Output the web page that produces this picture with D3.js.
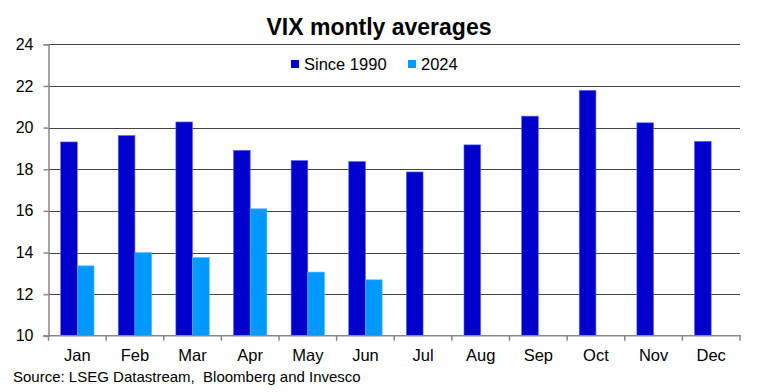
<!DOCTYPE html>
<html><head><meta charset="utf-8">
<script src="https://cdn.jsdelivr.net/npm/d3@7"></script>
<style>body{margin:0;background:#fff}svg{display:block;font-family:"Liberation Sans",Arial,sans-serif}</style>
</head><body>
<svg id="c" width="759" height="392"></svg>
<script>
const months = ["Jan","Feb","Mar","Apr","May","Jun","Jul","Aug","Sep","Oct","Nov","Dec"];
const since1990 = [19.31,19.62,20.27,18.91,18.42,18.37,17.87,19.17,20.55,21.79,20.23,19.34];
const y2024 = [13.36,14.0,13.76,16.10,13.06,12.69,null,null,null,null,null,null];
const seriesNames = ["Since 1990","2024"];
const yTicks = [10,12,14,16,18,20,22,24];

const colors = ["#0000CC","#0099FF"];
const svg = d3.select("#c");
const m = {l:48.5, r:740, t:44.3, b:335.8};
const x = d3.scaleBand().domain(months).range([m.l,m.r]).paddingInner(0).paddingOuter(0);
const x1 = d3.scaleBand().domain(seriesNames).range([0,x.bandwidth()]).paddingInner(0).paddingOuter(0.725);
const y = d3.scaleLinear().domain([10,24]).range([m.b,m.t]);

// gridlines
svg.append("g").selectAll("line").data(yTicks.filter(d=>d>10)).join("line")
  .attr("x1",m.l).attr("x2",m.r).attr("y1",d=>Math.round(y(d))+0.5).attr("y2",d=>Math.round(y(d))+0.5)
  .attr("stroke","#444").attr("stroke-width",1);

// bars
const data = months.map((mo,i)=>({mo, vals:[since1990[i], y2024[i]]}));
const g = svg.append("g");
data.forEach(d=>{
  d.vals.forEach((v,j)=>{
    if(v==null) return;
    g.append("rect")
      .attr("x", x(d.mo)+x1(seriesNames[j]))
      .attr("width", x1.bandwidth())
      .attr("y", y(v)).attr("height", y(10)-y(v))
      .attr("fill", colors[j])
      .attr("stroke", j===0?"#5a6cf0":"#5ab8ff").attr("stroke-width",0.6);
  });
});

// y axis
const ya = d3.axisLeft(y).tickValues(yTicks).tickSize(5).tickPadding(10).tickFormat(d3.format("d"));
const yg = svg.append("g").attr("transform",`translate(${m.l},0)`).call(ya);
yg.select(".domain").attr("stroke","#888").attr("stroke-width",1.5);
yg.selectAll(".tick line").attr("stroke","#888").attr("stroke-width",1.5);
yg.selectAll("text").attr("font-size","16px").attr("fill","#000").attr("font-family","Liberation Sans, Arial, sans-serif");

// x axis
const xa = d3.axisBottom(x).tickSize(0).tickPadding(13);
const xg = svg.append("g").attr("transform",`translate(0,${m.b})`).call(xa);
xg.select(".domain").remove();
xg.selectAll("text").attr("font-size","16.5px").attr("fill","#000").attr("font-family","Liberation Sans, Arial, sans-serif");
svg.append("line").attr("x1",m.l-5).attr("x2",m.r+1).attr("y1",m.b).attr("y2",m.b).attr("stroke","#888").attr("stroke-width",1.5);
const bounds = months.map(mo=>x(mo)).concat([m.r]);
svg.append("g").selectAll("line").data(bounds).join("line")
  .attr("x1",d=>d).attr("x2",d=>d).attr("y1",m.b).attr("y2",m.b+5)
  .attr("stroke","#888").attr("stroke-width",1.5);

// title
svg.append("text").attr("x",379).attr("y",35).attr("text-anchor","middle")
  .attr("font-size","23px").attr("font-weight","bold").text("VIX montly averages");

// legend
const leg = [{n:seriesNames[0],x:291,c:colors[0]},{n:seriesNames[1],x:408,c:colors[1]}];
leg.forEach(l=>{
  svg.append("rect").attr("x",l.x).attr("y",60).attr("width",8).attr("height",8).attr("fill",l.c);
  svg.append("text").attr("x",l.x+13).attr("y",70).attr("font-size","16.5px").text(l.n);
});

// source
svg.append("text").attr("x",13).attr("y",382).attr("font-size","15px").style("white-space","pre")
  .text("Source: LSEG Datastream,  Bloomberg and Invesco");
</script>
</body></html>
